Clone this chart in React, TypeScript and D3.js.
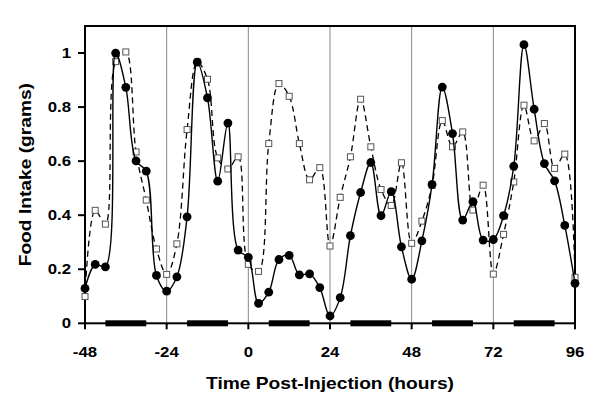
import React from "react";
import * as d3 from "d3";

const hours: number[] = [
  -48, -45, -42, -39, -36, -33, -30, -27, -24, -21, -18, -15, -12, -9, -6, -3,
  0, 3, 6, 9, 12, 15, 18, 21, 24, 27, 30, 33, 36, 39, 42, 45,
  48, 51, 54, 57, 60, 63, 66, 69, 72, 75, 78, 81, 84, 87, 90, 93, 96,
];

const filledSeries: number[] = [
  0.129, 0.218, 0.209, 1.0, 0.873, 0.601, 0.563, 0.177, 0.119, 0.172, 0.394, 0.966, 0.834, 0.526, 0.741, 0.271,
  0.244, 0.074, 0.115, 0.236, 0.251, 0.179, 0.183, 0.132, 0.027, 0.095, 0.324, 0.484, 0.595, 0.398, 0.487, 0.283,
  0.163, 0.305, 0.514, 0.874, 0.702, 0.382, 0.45, 0.308, 0.31, 0.398, 0.581, 1.031, 0.792, 0.591, 0.527, 0.362, 0.148,
];

const openSeries: number[] = [
  0.099, 0.418, 0.367, 0.968, 1.004, 0.634, 0.456, 0.275, 0.181, 0.294, 0.717, 0.967, 0.903, 0.612, 0.571, 0.616,
  0.218, 0.192, 0.665, 0.887, 0.84, 0.665, 0.531, 0.576, 0.286, 0.466, 0.616, 0.829, 0.653, 0.495, 0.436, 0.594,
  0.296, 0.378, 0.51, 0.75, 0.653, 0.708, 0.419, 0.511, 0.182, 0.329, 0.523, 0.807, 0.675, 0.739, 0.573, 0.626, 0.17,
];

const xTicks: number[] = [-48, -24, 0, 24, 48, 72, 96];
const gridHours: number[] = [-24, 0, 24, 48, 72];
const yTicks: number[] = [0, 0.2, 0.4, 0.6, 0.8, 1];
const yTickLabels: string[] = ["0", "0.2", "0.4", "0.6", "0.8", "1"];
const darkStart: number[] = [-42, -18, 6, 30, 54, 78];
const darkEnd: number[] = [-30, -6, 18, 42, 66, 90];

const W = 600;
const H = 410;
const left = 85;
const right = 575;
const top = 26;
const bottom = 323.3;
const font = "Arial, 'Liberation Sans', Helvetica, sans-serif";
const STRETCH = 1.2;

function Txt(props: {
  x: number;
  y: number;
  size: number;
  anchor: "start" | "middle" | "end";
  rotate?: number;
  children: React.ReactNode;
}) {
  const { x, y, size, anchor, rotate = 0, children } = props;
  return (
    <text
      transform={`translate(${x},${y}) rotate(${rotate}) scale(${STRETCH},1)`}
      textAnchor={anchor}
      fontSize={size}
      fontWeight="bold"
      fill="#000"
    >
      {children}
    </text>
  );
}

export default function App() {
  const x = d3.scaleLinear().domain([-48, 96]).range([left, right]);
  const y = d3.scaleLinear().domain([0, 1.1]).range([bottom, top]);

  const line = d3
    .line<number>()
    .x((_, i) => x(hours[i]))
    .y((d) => y(d))
    .curve(d3.curveCatmullRom.alpha(0.5));

  const filledPath = line(filledSeries) || "";
  const openPath = line(openSeries) || "";

  return (
    <svg
      width={W}
      height={H}
      style={{ position: "absolute", left: 0, top: 0, background: "#fff" }}
      fontFamily={font}
    >
      <rect x={0} y={0} width={W} height={H} fill="#fff" />
      {gridHours.map((h) => (
        <line key={h} x1={x(h)} x2={x(h)} y1={top} y2={bottom} stroke="#888" strokeWidth={1} />
      ))}
      <rect x={left} y={top} width={right - left} height={bottom - top} fill="none" stroke="#000" strokeWidth={2} />
      {xTicks.map((t) => (
        <g key={t}>
          <line x1={x(t)} x2={x(t)} y1={bottom} y2={bottom + 6} stroke="#000" strokeWidth={2} />
          <Txt x={x(t)} y={357} size={14} anchor="middle">
            {t}
          </Txt>
        </g>
      ))}
      {yTicks.map((t, i) => (
        <g key={t}>
          <line x1={left - 7} x2={left} y1={y(t)} y2={y(t)} stroke="#000" strokeWidth={2} />
          <Txt x={71} y={y(t) + 5} size={14} anchor="end">
            {yTickLabels[i]}
          </Txt>
        </g>
      ))}
      {darkStart.map((s, i) => (
        <rect key={s} x={x(s)} y={bottom - 3} width={x(darkEnd[i]) - x(s)} height={6} fill="#000" />
      ))}
      <path d={openPath} fill="none" stroke="#000" strokeWidth={1.3} strokeDasharray="6,4" />
      {openSeries.map((v, i) => (
        <rect
          key={i}
          x={x(hours[i]) - 3}
          y={y(v) - 3}
          width={6}
          height={6}
          fill="#fff"
          stroke="#555"
          strokeWidth={1}
        />
      ))}
      <path d={filledPath} fill="none" stroke="#000" strokeWidth={1.4} />
      {filledSeries.map((v, i) => (
        <circle key={i} cx={x(hours[i])} cy={y(v)} r={4.4} fill="#000" />
      ))}
      <Txt x={(left + right) / 2} y={389} size={16} anchor="middle">
        Time Post-Injection (hours)
      </Txt>
      <Txt x={31} y={(top + bottom) / 2} size={16} anchor="middle" rotate={-90}>
        Food Intake (grams)
      </Txt>
    </svg>
  );
}
